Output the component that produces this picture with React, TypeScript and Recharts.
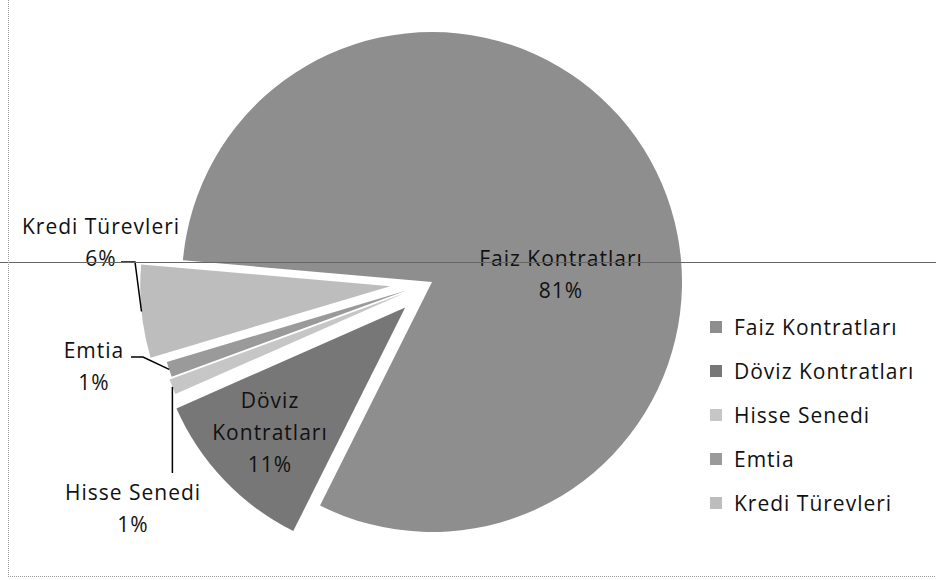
import React from 'react';
import { PieChart, Pie, Cell, Sector, Legend } from 'recharts';

const categories = ['Faiz Kontratları', 'Döviz Kontratları', 'Hisse Senedi', 'Emtia', 'Kredi Türevleri'];
const shares = [81, 11, 1, 1, 6];
const labelLines = [['Faiz Kontratları'], ['Döviz', 'Kontratları'], ['Hisse Senedi'], ['Emtia'], ['Kredi Türevleri']];

const fills = ['#8e8e8e', '#777777', '#c6c6c6', '#9a9a9a', '#bdbdbd'];
// how far each slice is pulled away from the centre (px)
const explode = [0, 37, 30, 27, 42];

const W = 936;
const H = 580;
const CX = 432;
const CY = 282;
const R = 250;
const RAD = Math.PI / 180;
const FONT = '"Open Sans", sans-serif';
const FONT_SIZE = 21;
const SPACING = 1;
const LINE_H = 32;

// label placement, relative to the pie centre (first line centre)
const labelPos = [
  { dx: 129, dy: -24 },
  { dx: -162, dy: 118 },
  { dx: -299, dy: 210 },
  { dx: -338, dy: 68 },
  { dx: -331, dy: -56 },
];
// leader line start for the outside labels (relative to pie centre); null = no leader
const leaderFrom: ({ x: number; y: number; elbow?: number; vertical?: boolean } | null)[] = [
  null,
  null,
  { x: 0, y: 191, vertical: true },
  { x: -301, y: 75, elbow: -289 },
  { x: -311, y: -20, elbow: -297 },
];

const data = categories.map((name, i) => ({ name, value: shares[i] }));

const dir = (angle: number) => ({ x: Math.cos(-angle * RAD), y: Math.sin(-angle * RAD) });

const ExplodedSector = (props: any) => {
  const i = categories.indexOf(props.name);
  const d = dir(props.midAngle);
  const off = explode[i] || 0;
  return <Sector {...props} cx={props.cx + d.x * off} cy={props.cy + d.y * off} />;
};

const renderLabel = (props: any) => {
  const { cx, cy, midAngle, outerRadius, index, percent } = props;
  const pos = labelPos[index];
  const lines = [...labelLines[index], `${Math.round(percent * 100)}%`];
  const x = cx + pos.dx;
  const y0 = cy + pos.dy;
  const lead = leaderFrom[index];
  let leader = null;
  if (lead) {
    const d = dir(midAngle);
    const off = explode[index];
    const ax = cx + d.x * (off + outerRadius);
    const ay = cy + d.y * (off + outerRadius);
    const pts = lead.vertical
      ? `${ax},${cy + lead.y} ${ax},${ay}`
      : `${cx + lead.x},${cy + lead.y} ${cx + (lead.elbow ?? lead.x)},${cy + lead.y} ${ax},${ay}`;
    leader = <polyline points={pts} fill="none" stroke="#000" strokeWidth={1.5} />;
  }
  return (
    <g>
      {leader}
      {lines.map((t, k) => (
        <text
          key={k}
          x={x}
          y={y0 + k * LINE_H}
          textAnchor="middle"
          dominantBaseline="central"
          fill="#111"
          fontSize={FONT_SIZE}
          letterSpacing={SPACING}
          fontFamily={FONT}
        >
          {t}
        </text>
      ))}
    </g>
  );
};

const renderLegend = (props: any) => {
  const items = [...props.payload].sort(
    (a: any, b: any) => categories.indexOf(a.value) - categories.indexOf(b.value)
  );
  return (
    <div style={{ fontFamily: FONT, fontSize: FONT_SIZE, letterSpacing: SPACING, color: '#111' }}>
      {items.map((item: any) => (
        <div key={item.value} style={{ display: 'flex', alignItems: 'center', height: 44 }}>
          <span
            style={{ width: 12, height: 12, background: item.color, marginRight: 12, display: 'inline-block' }}
          />
          <span>{item.value}</span>
        </div>
      ))}
    </div>
  );
};

export default function App() {
  return (
    <div style={{ position: 'relative', width: W, height: H, background: '#fff' }}>
      <style>{'body{margin:0}'}</style>
      <PieChart width={W} height={H} margin={{ top: 0, right: 0, bottom: 0, left: 0 }}>
        <Pie
          data={data}
          dataKey="value"
          nameKey="name"
          cx={CX}
          cy={CY}
          outerRadius={R}
          startAngle={175}
          endAngle={-185}
          stroke="none"
          shape={ExplodedSector}
          label={renderLabel}
          labelLine={false}
          isAnimationActive={false}
        >
          {data.map((d, i) => (
            <Cell key={d.name} fill={fills[i]} />
          ))}
        </Pie>
        <Legend
          layout="vertical"
          verticalAlign="top"
          align="right"
          content={renderLegend}
          wrapperStyle={{ left: 710, top: 305, width: 226 }}
        />
      </PieChart>
      <svg width={W} height={H} style={{ position: 'absolute', left: 0, top: 0, pointerEvents: 'none' }}>
        <line x1={0} y1={262.5} x2={W} y2={262.5} stroke="#666" strokeWidth={1.2} />
        <line x1={8.5} y1={0} x2={8.5} y2={577} stroke="#999" strokeDasharray="1 1" />
        <line x1={8} y1={576.5} x2={W} y2={576.5} stroke="#999" strokeDasharray="1 1" />
      </svg>
    </div>
  );
}
